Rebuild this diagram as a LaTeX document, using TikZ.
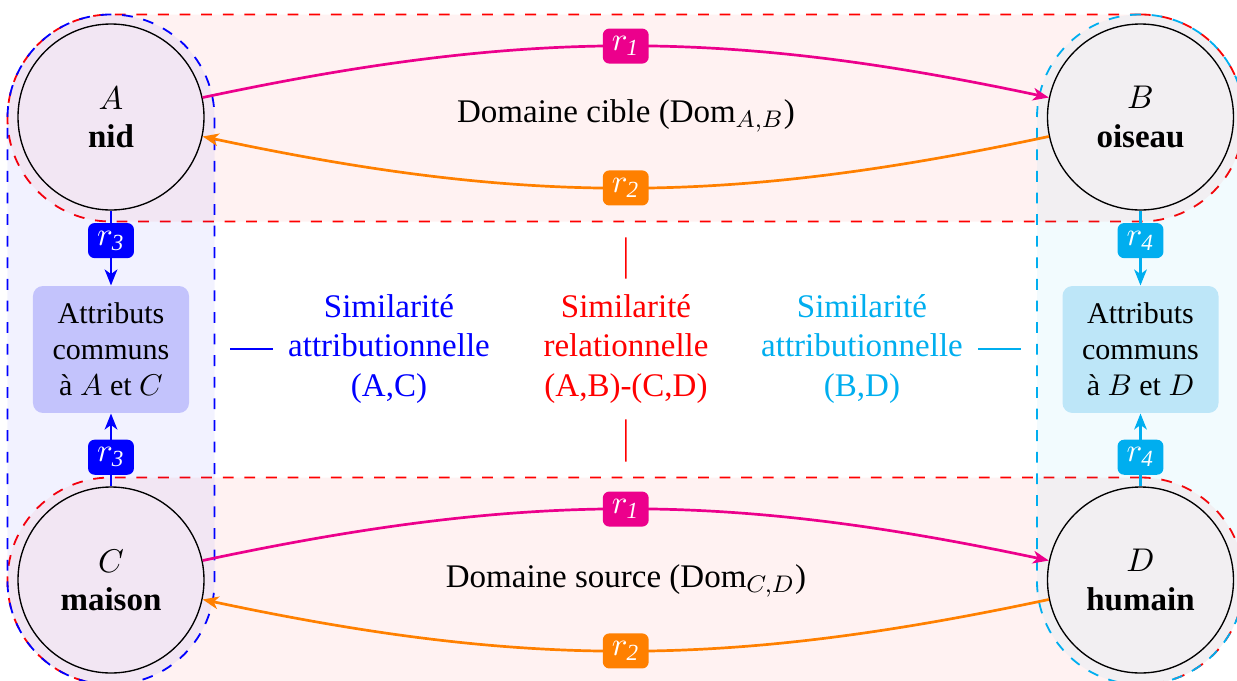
\documentclass[tikz,border=0pt]{standalone}
\usepackage{fontspec}
\setmainfont{Liberation Serif}
\newfontfamily\tnr{Liberation Serif}
\usetikzlibrary{arrows.meta}
\definecolor{cmag}{RGB}{236,0,140}
\definecolor{ccyan}{RGB}{0,174,239}
\definecolor{corange}{RGB}{255,128,0}
\definecolor{attrblue}{RGB}{195,195,252}
\definecolor{attrcyan}{RGB}{189,230,248}
\tikzset{
  region/.style={rectangle, dash pattern=on 3.6pt off 3.6pt, line width=0.6pt, fill opacity=0.05, rounded corners=34.4pt, inner sep=0pt},
  circ/.style={circle, draw=black, line width=0.45pt, minimum size=62pt, inner sep=0pt, align=center, font=\tnr\fontsize{11}{12.7}\selectfont},
  edge/.style={line width=0.9pt, -{Stealth[length=5.3pt,width=4.2pt,inset=1.5pt]}},
  lab/.style={rectangle, rounded corners=2.2pt, text=white, inner sep=1pt, minimum width=15.3pt, minimum height=11.7pt, font=\fontsize{11}{13}\selectfont},
  attrbox/.style={rectangle, rounded corners=3.3pt, minimum width=52pt, minimum height=42.3pt, inner sep=0pt, align=center, font=\tnr\fontsize{10}{12}\selectfont},
  simtext/.style={align=center, inner sep=0pt, font=\tnr\fontsize{11}{13.3}\selectfont},
  simline/.style={line width=0.5pt, shorten <=5pt, shorten >=5pt}
}
\begin{document}
\begin{tikzpicture}[x=0.33333pt, y=-0.33333pt, font=\tnr\fontsize{11}{13.2}\selectfont]
\useasboundingbox (0,0) rectangle (1237,681);
% regions
\node[region, draw=red, fill=red, minimum width=412.17pt, minimum height=69pt] (domAB) at (625.75,118) {};
\node[region, draw=red, fill=red, minimum width=412.17pt, minimum height=69pt] (domCD) at (625.75,581) {};
\node[region, draw=blue, fill=blue, minimum width=69pt, minimum height=223.33pt] (domAC) at (111,349.5) {};
\node[region, draw=ccyan, fill=ccyan, minimum width=69pt, minimum height=223.33pt] (domBD) at (1140.5,349.5) {};
% circles
\node[circ] (A) at (111,117) {$A$\\\textbf{nid}};
\node[circ] (B) at (1140.5,117) {$B$\\\textbf{oiseau}};
\node[circ] (C) at (111,580) {$C$\\\textbf{maison}};
\node[circ] (D) at (1140.5,580) {$D$\\\textbf{humain}};
% attribute boxes
\node[attrbox, fill=attrblue] (attrAC) at (111,349.5) {Attributs\\communs\\à $A$ et $C$};
\node[attrbox, fill=attrcyan] (attrBD) at (1140.5,349.5) {Attributs\\communs\\à $B$ et $D$};
% domain labels
\node (lblAB) at (626,116) {Domaine cible (Dom$_{A,B}$)};
\node (lblCD) at (626,581) {Domaine source (Dom$_{C,D}$)};
% relation edges
\draw[edge, cmag] (A) to[bend left=12] node[lab, fill=cmag] {$r_{\mathit{1}}$} (B);
\draw[edge, corange] (B) to[bend left=12] node[lab, fill=corange] {$r_{\mathit{2}}$} (A);
\draw[edge, cmag] (C) to[bend left=12] node[lab, fill=cmag] {$r_{\mathit{1}}$} (D);
\draw[edge, corange] (D) to[bend left=12] node[lab, fill=corange] {$r_{\mathit{2}}$} (C);
% attribute edges
\draw[edge, blue] (A) -- node[lab, fill=blue, pos=0.4] {$r_{\mathit{3}}$} (attrAC);
\draw[edge, blue] (C) -- node[lab, fill=blue, pos=0.4] {$r_{\mathit{3}}$} (attrAC);
\draw[edge, ccyan] (B) -- node[lab, fill=ccyan, pos=0.4] {$r_{\mathit{4}}$} (attrBD);
\draw[edge, ccyan] (D) -- node[lab, fill=ccyan, pos=0.4] {$r_{\mathit{4}}$} (attrBD);
% similarity texts
\node[simtext, text=blue] (simAC) at (389,349) {Similarité\\attributionnelle\\(A,C)};
\node[simtext, text=red] (simRel) at (626,349) {Similarité\\relationnelle\\(A,B)-(C,D)};
\node[simtext, text=ccyan] (simBD) at (862,349) {Similarité\\attributionnelle\\(B,D)};
\draw[simline, blue] (domAC.east |- simAC.west) -- (simAC.west);
\draw[simline, ccyan] (simBD.east) -- (domBD.west |- simBD.east);
\draw[simline, red] (domAB.south) -- (simRel.north);
\draw[simline, red] (simRel.south) -- (domCD.north);
\end{tikzpicture}
\end{document}
